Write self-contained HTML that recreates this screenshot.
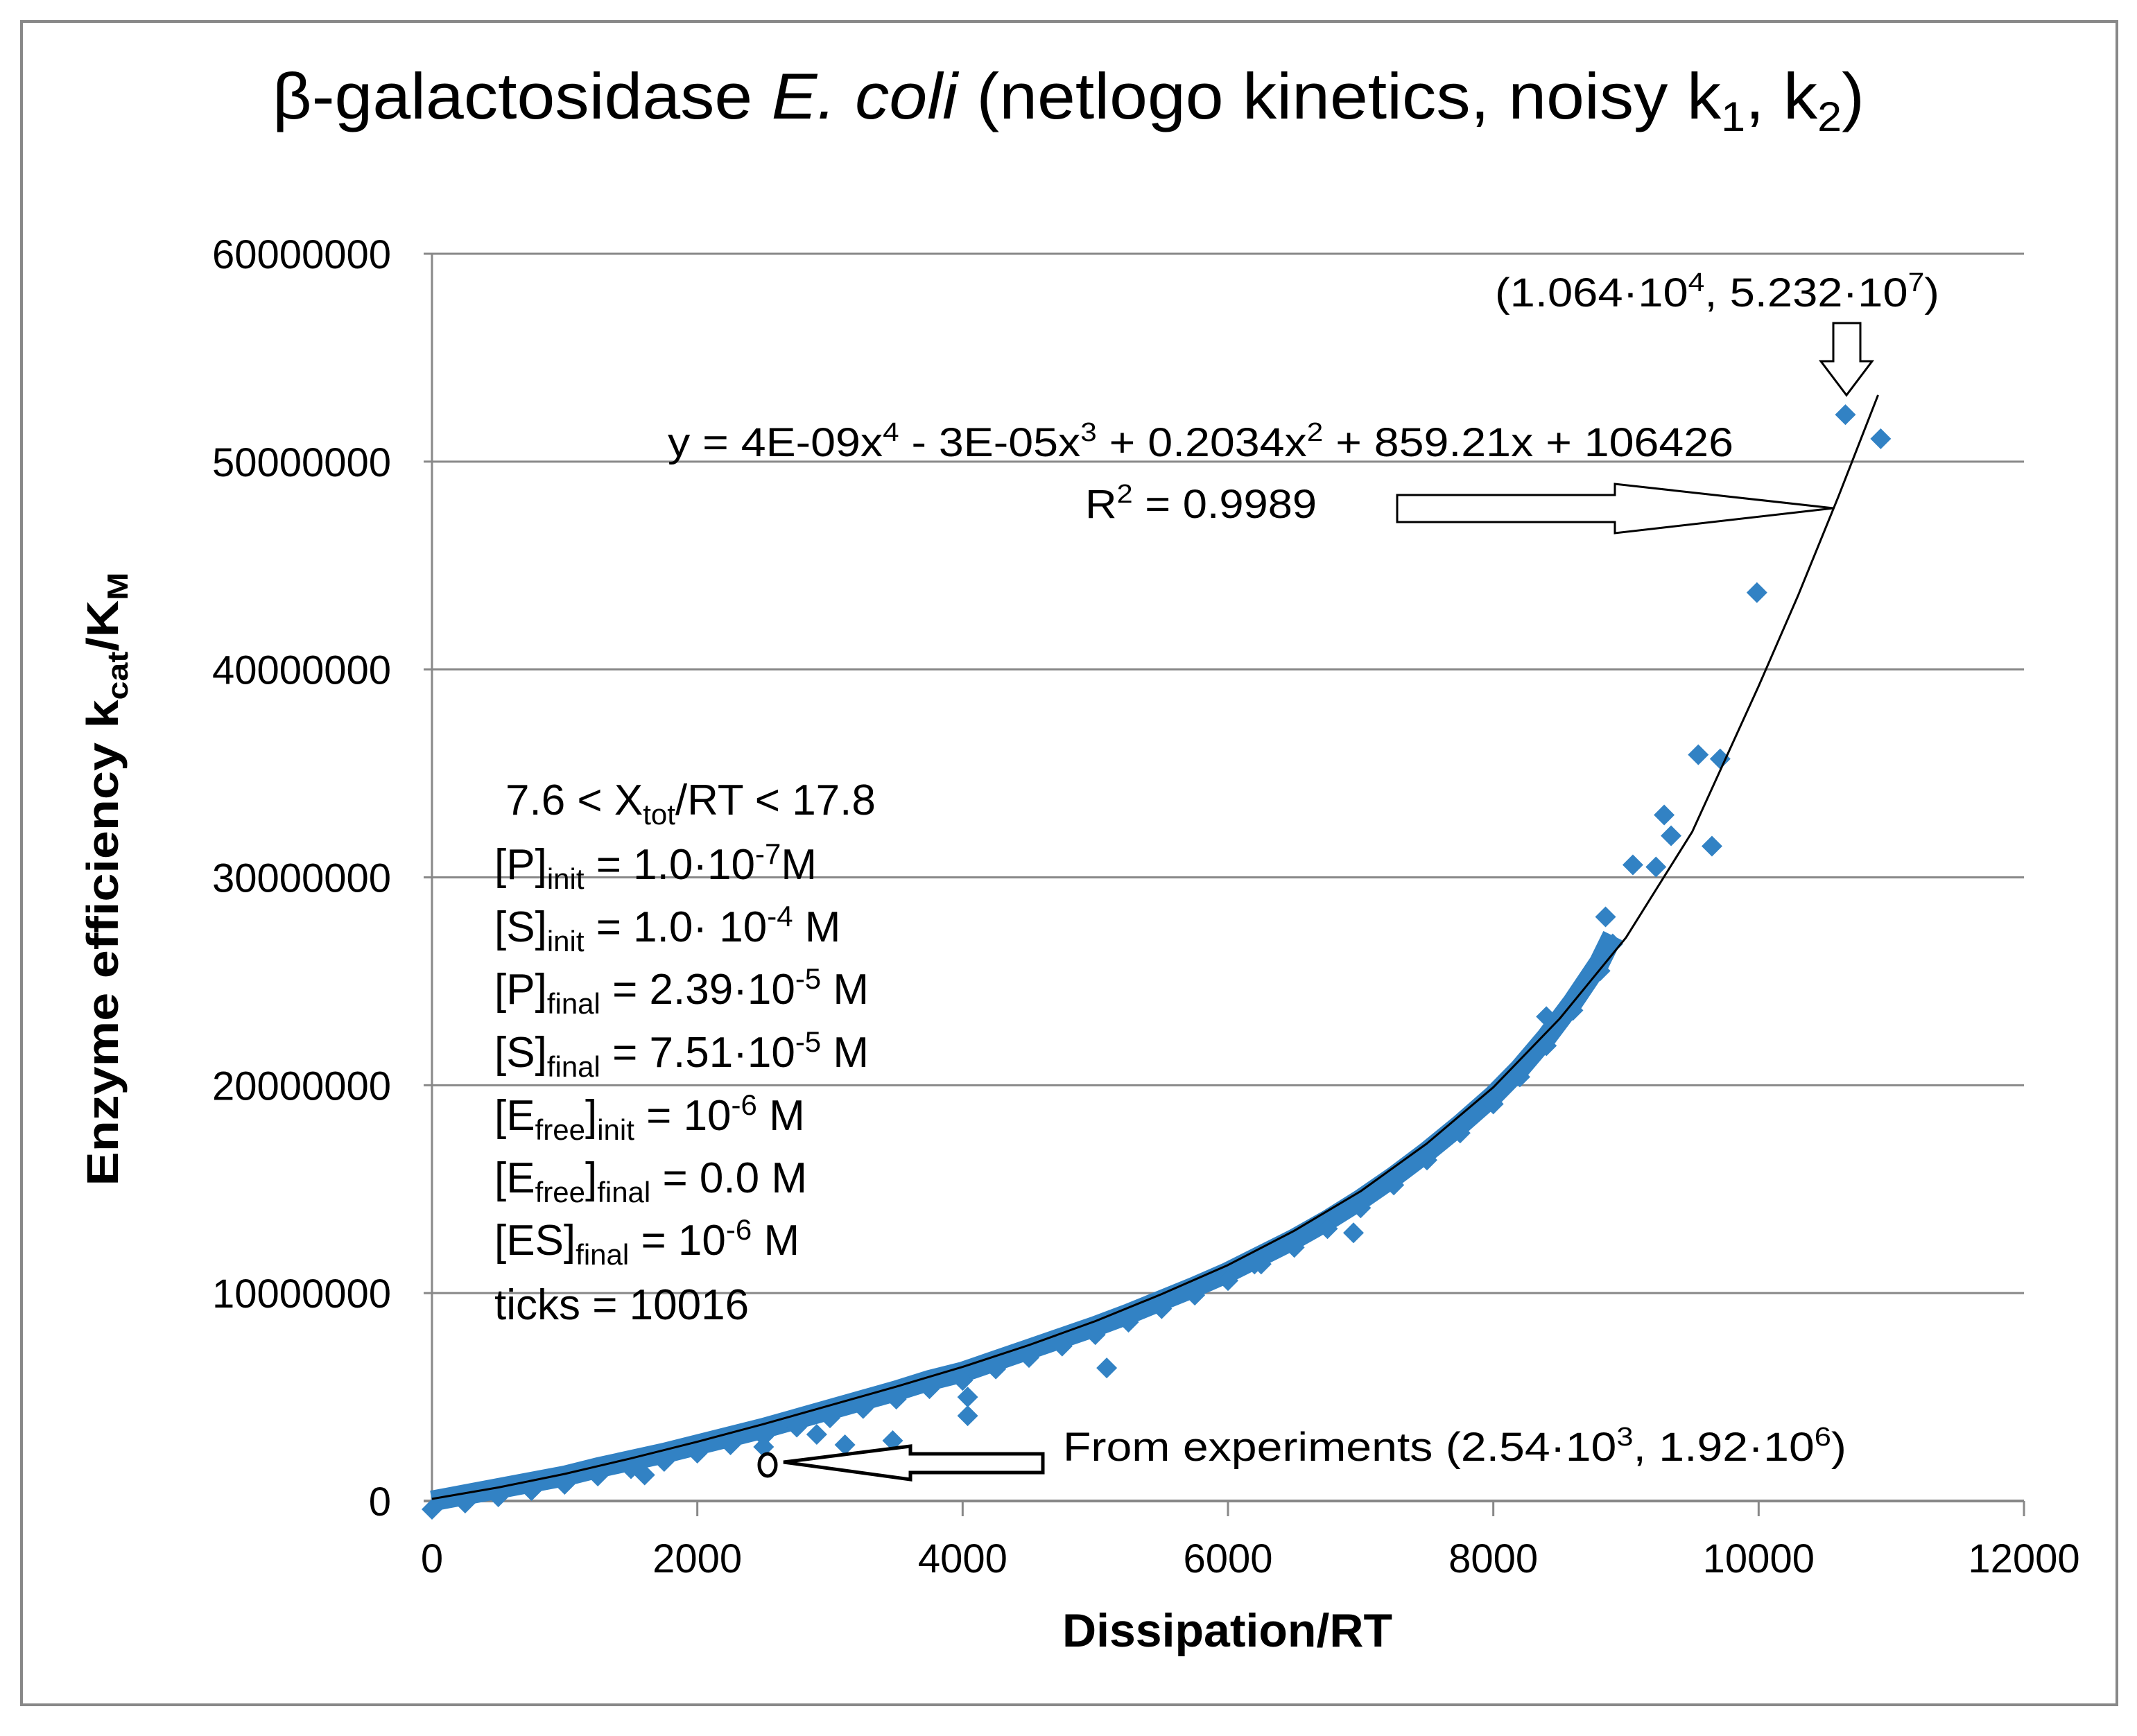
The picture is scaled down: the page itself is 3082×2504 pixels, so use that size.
<!DOCTYPE html>
<html><head><meta charset="utf-8"><style>html,body{margin:0;padding:0;background:#fff}svg{display:block}text{font-family:"Liberation Sans",sans-serif;fill:#000}</style></head>
<body>
<svg id="chart" width="3082" height="2504" viewBox="0 0 3082 2504" xmlns="http://www.w3.org/2000/svg">
<rect x="0" y="0" width="3082" height="2504" fill="#fff"/>
<rect x="31" y="31" width="3022" height="2428" fill="none" stroke="#888" stroke-width="4"/>
<text x="393" y="171" font-size="94" textLength="2296" lengthAdjust="spacingAndGlyphs">β-galactosidase <tspan font-style="italic">E. coli</tspan> (netlogo kinetics, noisy k<tspan font-size="60" dy="18">1</tspan><tspan dy="-18">, k</tspan><tspan font-size="60" dy="18">2</tspan><tspan dy="-18">)</tspan></text>
<g id="grid"></g>
<g id="axes"></g>
<g id="band"></g>
<g id="trend"></g>
<text x="1770" y="2375" font-size="68" font-weight="bold" text-anchor="middle">Dissipation/RT</text>
<text transform="translate(170,1268) rotate(-90)" font-size="64" font-weight="bold" text-anchor="middle" textLength="885" lengthAdjust="spacingAndGlyphs">Enzyme efficiency  k<tspan font-size="42" dy="14">cat</tspan><tspan dy="-14">/K</tspan><tspan font-size="42" dy="14">M</tspan></text>
<text x="2156" y="442" font-size="58" textLength="641" lengthAdjust="spacingAndGlyphs">(1.064·10<tspan font-size="38" dy="-22">4</tspan><tspan dy="22">, 5.232·10</tspan><tspan font-size="38" dy="-22">7</tspan><tspan dy="22">)</tspan></text>
<text x="963" y="658" font-size="58" textLength="1537" lengthAdjust="spacingAndGlyphs">y = 4E-09x<tspan font-size="38" dy="-22">4</tspan><tspan dy="22"> - 3E-05x</tspan><tspan font-size="38" dy="-22">3</tspan><tspan dy="22"> + 0.2034x</tspan><tspan font-size="38" dy="-22">2</tspan><tspan dy="22"> + 859.21x + 106426</tspan></text>
<text x="1565" y="747" font-size="58" textLength="334" lengthAdjust="spacingAndGlyphs">R<tspan font-size="38" dy="-22">2</tspan><tspan dy="22"> = 0.9989</tspan></text>
<g font-size="62">
<text x="729" y="1175">7.6 &lt; X<tspan font-size="42" dy="14">tot</tspan><tspan dy="-14">/RT &lt; 17.8</tspan></text>
<text x="713" y="1268">[P]<tspan font-size="42" dy="14">init</tspan><tspan dy="-14"> = 1.0·10</tspan><tspan font-size="42" dy="-22">-7</tspan><tspan dy="22">M</tspan></text>
<text x="713" y="1358">[S]<tspan font-size="42" dy="14">init</tspan><tspan dy="-14"> = 1.0· 10</tspan><tspan font-size="42" dy="-22">-4</tspan><tspan dy="22"> M</tspan></text>
<text x="713" y="1448">[P]<tspan font-size="42" dy="14">final</tspan><tspan dy="-14">  = 2.39·10</tspan><tspan font-size="42" dy="-22">-5</tspan><tspan dy="22"> M</tspan></text>
<text x="713" y="1539">[S]<tspan font-size="42" dy="14">final</tspan><tspan dy="-14"> = 7.51·10</tspan><tspan font-size="42" dy="-22">-5</tspan><tspan dy="22"> M</tspan></text>
<text x="713" y="1630">[E<tspan font-size="42" dy="14">free</tspan><tspan dy="-14">]</tspan><tspan font-size="42" dy="14">init</tspan><tspan dy="-14">  = 10</tspan><tspan font-size="42" dy="-22">-6</tspan><tspan dy="22"> M</tspan></text>
<text x="713" y="1720">[E<tspan font-size="42" dy="14">free</tspan><tspan dy="-14">]</tspan><tspan font-size="42" dy="14">final</tspan><tspan dy="-14">  = 0.0 M</tspan></text>
<text x="713" y="1810">[ES]<tspan font-size="42" dy="14">final</tspan><tspan dy="-14"> = 10</tspan><tspan font-size="42" dy="-22">-6</tspan><tspan dy="22"> M</tspan></text>
<text x="713" y="1903">ticks = 10016</text>
</g>
<text x="1533" y="2107" font-size="58" textLength="1130" lengthAdjust="spacingAndGlyphs">From experiments  (2.54·10<tspan font-size="38" dy="-22">3</tspan><tspan dy="22">, 1.92·10</tspan><tspan font-size="38" dy="-22">6</tspan><tspan dy="22">)</tspan></text>
<path d="M2644,466 L2683,466 L2683,521 L2700,521 L2663,570 L2626,521 L2644,521 Z" fill="#fff" stroke="#000" stroke-width="3"/>
<path d="M2015,714 L2329,714 L2329,698 L2644,733 L2329,769 L2329,753 L2015,753 Z" fill="#fff" stroke="#000" stroke-width="3"/>
<g id="late"></g>
<script>
const yTicks=[0,10000000,20000000,30000000,40000000,50000000,60000000];
const xTicks=[0,2000,4000,6000,8000,10000,12000];
const bandX=[0,250,500,750,1000,1250,1500,1750,2000,2250,2500,2750,3000,3250,3500,3750,4000,4250,4500,4750,5000,5250,5500,5750,6000,6250,6500,6750,7000,7250,7500,7750,8000,8200,8400,8600,8800,8900];
const bandY=[0,0.3,0.6,0.9,1.2,1.6,1.95,2.3,2.7,3.1,3.5,3.95,4.4,4.85,5.3,5.8,6.2,6.75,7.3,7.85,8.4,9.0,9.65,10.3,11.0,11.8,12.6,13.5,14.5,15.6,16.8,18.1,19.5,20.8,22.3,24.0,25.9,27.2];
const outX=[10654,10920,9987,9545,9710,9648,9288,9340,9052,9226,8805,8846,8400,8600,7531,6946,6200,5086,4038,4038,3473,3113,1603,2500,2900];
const outY=[52.26,51.1,43.7,35.9,35.7,31.5,33.0,32.0,30.6,30.5,25.5,28.1,23.3,24.0,16.8,12.9,11.4,6.4,5.0,4.1,2.9,2.7,1.25,2.6,3.2];
const trendX=[0,500,1000,1500,2000,2500,3000,3500,4000,4500,5000,5500,6000,6500,7000,7500,8000,8500,9000,9500,10000,10300,10600,10900];
const trendY=[0.1,0.65,1.3,2.05,2.85,3.7,4.6,5.5,6.45,7.5,8.65,9.95,11.35,13.0,14.9,17.2,19.9,23.2,27.1,32.2,39.2,43.6,48.3,53.2];
const NS='http://www.w3.org/2000/svg';
const X0=623,X1=2919,Y0=2165,Y1=366;
function sx(v){return X0+(v-0)/(12000-0)*(X1-X0);}
function sy(v){return Y0-(v-0)/(60000000-0)*(Y0-Y1);}
function mk(tag,attrs,parent){const e=document.createElementNS(NS,tag);for(const k in attrs)e.setAttribute(k,attrs[k]);parent.appendChild(e);return e;}
const grid=document.getElementById('grid'),axes=document.getElementById('axes');
yTicks.forEach(t=>{
 if(t>0){const l=mk('line',{x1:X0,x2:X1,y1:sy(t),y2:sy(t),stroke:'#888','stroke-width':3},grid);
 
 }
 const tl=mk('line',{x1:X0-12,x2:X0,y1:sy(t),y2:sy(t),stroke:'#888','stroke-width':3},axes);
 
 
 const tx=mk('text',{x:564,y:sy(t)+21,'font-size':58,'text-anchor':'end'},axes);
 tx.textContent=String(t);
 
 
});
xTicks.forEach(t=>{
 const tl=mk('line',{x1:sx(t),x2:sx(t),y1:Y0,y2:Y0+22,stroke:'#888','stroke-width':3},axes);
 
 
 const tx=mk('text',{x:sx(t),y:2268,'font-size':58,'text-anchor':'middle'},axes);
 tx.textContent=String(t);
 
 
});
const ya=mk('line',{x1:X0,x2:X0,y1:Y1,y2:Y0,stroke:'#888','stroke-width':3},axes);


const xa=mk('line',{x1:X0-12,x2:X1,y1:Y0,y2:Y0,stroke:'#888','stroke-width':4},axes);


const band=document.getElementById('band');
const bp=bandX.map((x,i)=>sx(x)+','+sy(bandY[i]*1e6)).join(' ');
const bl=mk('polyline',{points:bp,fill:'none',stroke:'#3282c4','stroke-width':30,'stroke-linejoin':'round'},band);


function diamond(x,y){const cx=sx(x),cy=sy(y*1e6),r=15;
 const d=mk('path',{d:`M${cx},${cy-r}L${cx+r},${cy}L${cx},${cy+r}L${cx-r},${cy}Z`,fill:'#3282c4'},band);
 
 }
bandX.forEach((x,i)=>diamond(x,bandY[i]-0.4));
outX.forEach((x,i)=>diamond(x,outY[i]));
const trend=document.getElementById('trend');
const tp=trendX.map((x,i)=>sx(x)+','+sy(trendY[i]*1e6)).join(' ');
const tl=mk('polyline',{points:tp,fill:'none',stroke:'#000','stroke-width':3,'stroke-linejoin':'round'},trend);


const late=document.getElementById('late');
const la=mk('path',{d:'M1130,2109 L1313,2086 L1313,2097 L1504,2097 L1504,2124 L1313,2124 L1313,2134 Z',fill:'#fff',stroke:'#000','stroke-width':5},late);


const em=mk('ellipse',{cx:1107,cy:2113,rx:12,ry:16,fill:'#fff',stroke:'#000','stroke-width':5},late);


</script>
</svg>
</body></html>
